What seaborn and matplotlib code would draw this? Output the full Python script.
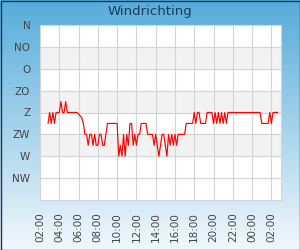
import numpy as np
import pandas as pd
import matplotlib
matplotlib.use('Agg')
import matplotlib.pyplot as plt
import matplotlib.dates as mdates
import seaborn as sns

# windrichting in graden, elke 10 minuten vanaf 02:50
start = '2024-05-01 02:50'
richting = [
    202.5, 180, 202.5, 180, 202.5, 180, 180, 180, 157.5, 180,
    180, 157.5, 180, 180, 180, 180, 180, 180, 180, 183,
    187, 191, 202.5, 225, 225, 247.5, 225, 225, 247.5, 225,
    247.5, 247.5, 225, 225, 247.5, 247.5, 225, 202.5, 202.5, 202.5,
    202.5, 202.5, 202.5, 202.5, 270, 247.5, 270, 225, 270, 225,
    247.5, 202.5, 202.5, 247.5, 225, 247.5, 225, 225, 202.5, 202.5,
    202.5, 202.5, 225, 225, 225, 225, 247.5, 225, 247.5, 270,
    247.5, 225, 225, 247.5, 270, 225, 247.5, 225, 247.5, 225,
    247.5, 225, 225, 225, 225, 225, 202.5, 202.5, 202.5, 202.5,
    202.5, 180, 202.5, 180, 180, 202.5, 202.5, 202.5, 202.5, 180,
    180, 180, 180, 202.5, 180, 202.5, 180, 202.5, 180, 202.5,
    180, 202.5, 180, 180, 180, 180, 180, 180, 180, 180,
    180, 180, 180, 180, 180, 180, 180, 180, 180, 180,
    180, 180, 180, 202.5, 202.5, 202.5, 202.5, 202.5, 180, 202.5,
    180, 180, 180, 180,
]
windrichtingen = ['N', 'NO', 'O', 'ZO', 'Z', 'ZW', 'W', 'NW']
graden = [0, 45, 90, 135, 180, 225, 270, 315]

tijd = pd.date_range(start, periods=len(richting), freq='10min')
df = pd.DataFrame({'tijd': tijd, 'richting': richting})

sns.set_style('white')
plt.rcParams['font.family'] = ['DejaVu Sans']

fig = plt.figure(figsize=(3, 2.5), dpi=100)

# achtergrond met verloop
bg = fig.add_axes([0, 0, 1, 1], zorder=-10)
top = np.array([0x56, 0xac, 0xda]) / 255
bot = np.array([0xf2, 0xf8, 0xfc]) / 255
f = np.linspace(0, 1, 250)[:, None]
grad = top * (1 - f) + bot * f
bg.imshow(grad[:, None, :].repeat(2, axis=1), aspect='auto', extent=[0, 1, 0, 1])
bg.set_axis_off()
fig.patches.append(plt.Rectangle((0.5 / 300, 0.5 / 250), 299 / 300, 249 / 250,
                                 transform=fig.transFigure, fill=False,
                                 edgecolor='#0d3a5e', linewidth=1.0))

ax = fig.add_axes([40 / 300, 1 - 200 / 250, 241 / 300, 175 / 250])
ax.set_facecolor('white')

# grijze banden
for lo in [45, 135, 225]:
    ax.axhspan(lo, lo + 45, color='#f2f2f2', zorder=0)

sns.lineplot(data=df, x='tijd', y='richting', color='#ff0000', linewidth=0.85, ax=ax, zorder=3)

t0 = pd.Timestamp('2024-05-01 02:00')
ax.set_xlim(t0, t0 + pd.Timedelta(hours=25))
ax.set_ylim(360, 0)
ax.set_yticks(graden)
ax.set_yticklabels(windrichtingen)
ax.set_xticks(pd.date_range(t0, periods=13, freq='2h'))
ax.xaxis.set_major_formatter(mdates.DateFormatter('%H:%M'))

ax.grid(True, color='#d4d4d4', linewidth=0.8, zorder=1)
ax.set_axisbelow(True)
ax.tick_params(axis='x', length=0, pad=9, labelsize=7.5, labelcolor='#444444', rotation=90)
ax.tick_params(axis='y', length=0, pad=7, labelsize=7.5, labelcolor='#444444')
ax.set_xlabel('')
ax.set_ylabel('')
for s in ax.spines.values():
    s.set_color('#d4d4d4')
    s.set_linewidth(0.8)

fig.text(0.5, 1 - 12 / 250, 'Windrichting', ha='center', va='center',
         fontsize=9.5, color='#1b3a5c')

fig.savefig('out.png', dpi=100)
